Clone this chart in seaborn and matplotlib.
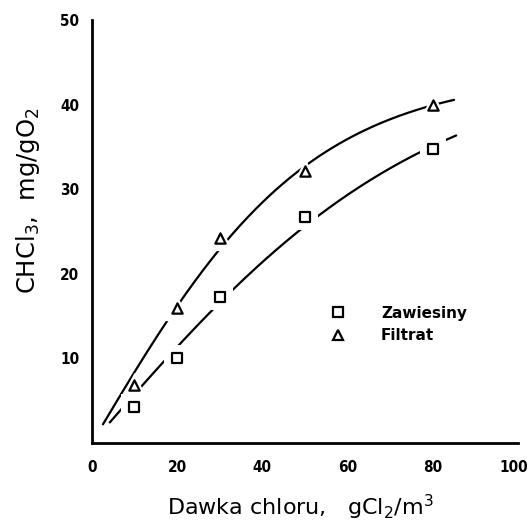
import numpy as np
import pandas as pd
import matplotlib
matplotlib.use("Agg")
import matplotlib.pyplot as plt
import matplotlib.transforms as mtransforms
import seaborn as sns
from matplotlib.lines import Line2D

# Data
dose = [10, 20, 30, 50, 80]
zawiesiny = [4.3, 10.0, 17.2, 26.7, 34.7]
filtrat = [6.8, 16.0, 24.2, 32.2, 40.0]
series_names = ["Zawiesiny", "Filtrat"]
x_ticks = [0, 20, 40, 60, 80, 100]
y_ticks = [10, 20, 30, 40, 50]

sns.set_theme(style="white")
plt.rcParams['font.family'] = ['DejaVu Sans']
plt.rcParams['text.color'] = 'black'
plt.rcParams['axes.labelcolor'] = 'black'

fig = plt.figure(figsize=(5.28, 5.24), dpi=100)
ax = fig.add_axes([0.174, 0.1546, 0.807, 0.8074])

df = pd.DataFrame({"dose": dose * 2,
                   "val": zawiesiny + filtrat,
                   "series": [series_names[0]] * len(dose) + [series_names[1]] * len(dose)})


def tanh_fit(x, y):
    """Least-squares fit of y = A * tanh(x / B), B by grid search."""
    x = np.asarray(x, float)
    y = np.asarray(y, float)
    best = None
    for B in np.linspace(20, 200, 900):
        g = np.tanh(x / B)
        A = np.dot(g, y) / np.dot(g, g)
        err = np.sum((A * g - y) ** 2)
        if best is None or err < best[0]:
            best = (err, B, A)
    _, B, A = best
    return lambda t: A * np.tanh(t / B)


markers = {"Zawiesiny": "s", "Filtrat": "^"}
ranges = {"Zawiesiny": (4.2, 85.5), "Filtrat": (2.6, 85.0)}
for name in series_names:
    sub = df[df.series == name]
    f = tanh_fit(sub.dose, sub.val)
    xs = np.linspace(*ranges[name], 200)
    fit = pd.DataFrame({"x": xs, "y": f(xs)})
    sns.lineplot(data=fit, x="x", y="y", ax=ax, color="black", lw=1.6, zorder=2)
    sns.scatterplot(data=sub, x="dose", y="val", ax=ax, marker=markers[name],
                    s=330, color="white", edgecolor="white", linewidth=0, zorder=3)
    sns.scatterplot(data=sub, x="dose", y="val", ax=ax, marker=markers[name],
                    s=55, facecolor="white", edgecolor="black", linewidth=1.6, zorder=4)

ax.set_xlim(0, 100)
ax.set_ylim(0, 50)
ax.set_xticks(x_ticks)
ax.set_yticks(y_ticks)
tick_font = {"fontsize": 11, "fontweight": "bold", "fontstretch": "condensed"}
ax.set_xticklabels([str(t) for t in x_ticks], **tick_font)
ax.set_yticklabels([str(t) for t in y_ticks], **tick_font)
ax.tick_params(direction="in", length=5, width=1.5, colors="black")
ax.tick_params(axis="y", pad=9)
ax.tick_params(axis="x", pad=12)
last = ax.get_xticklabels()[-1]
last.set_transform(last.get_transform() +
                   mtransforms.ScaledTranslation(-4 / 100, 0, fig.dpi_scale_trans))
for side in ["top", "right"]:
    ax.spines[side].set_visible(False)
for side in ["left", "bottom"]:
    ax.spines[side].set_color("black")
    ax.spines[side].set_linewidth(2)

ax.set_xlabel("")
ax.set_ylabel("CHCl$_3$,  mg/gO$_2$", fontsize=17.5)
ax.yaxis.set_label_coords(-0.118, 0.574)
fig.text(300 / 528, 1 - 507 / 524, "Dawka chloru,   gCl$_2$/m$^3$", fontsize=16,
         ha="center", va="center")

handles = [Line2D([], [], marker=markers[n], ls="none", mfc="white", mec="black",
                  mew=1.6, ms=7.5) for n in series_names]
ax.legend(handles, series_names, loc="center left", bbox_to_anchor=(0.51, 0.28),
          frameon=False, handletextpad=1.8, labelspacing=0.5,
          prop={"weight": "bold", "size": 11})

fig.savefig("out.png", dpi=100)
